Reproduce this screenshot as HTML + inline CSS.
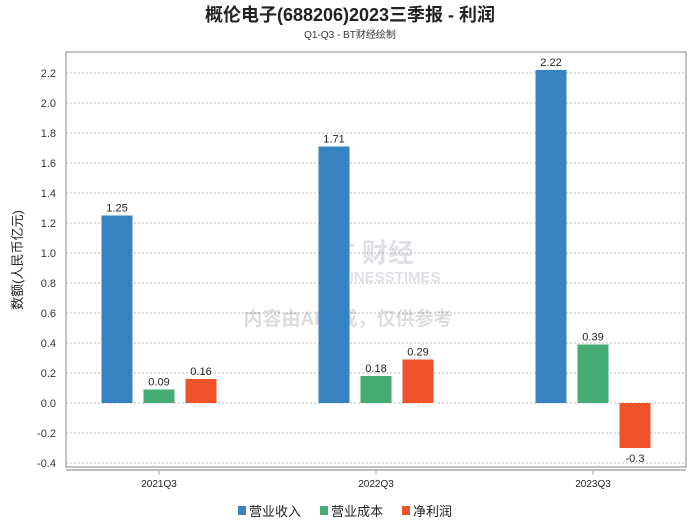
<!DOCTYPE html>
<html><head><meta charset="utf-8"><style>
body{margin:0;background:#fff;font-family:"Liberation Sans","Noto Sans CJK SC",sans-serif;}
svg text{font-family:"Liberation Sans","Noto Sans CJK SC",sans-serif;}
</style></head><body>
<svg id="chart" width="700" height="524" xmlns="http://www.w3.org/2000/svg">
<text x="350" y="21" text-anchor="middle" font-size="18" font-weight="bold" fill="#222">概伦电子(688206)2023三季报 - 利润</text>
<text x="350" y="38" text-anchor="middle" font-size="10" fill="#333">Q1-Q3 - BT财经绘制</text>
<rect x="66" y="52" width="620" height="415" fill="none" stroke="#888"/>
<line x1="66" y1="470" x2="686" y2="470" stroke="#aaa" stroke-width="1.5"/>
<g id="grid"></g>
<g opacity="0.18">
<text x="320" y="262" font-size="26" font-weight="bold" fill="#557" font-family="Liberation Serif">BT 财经</text>
<text x="318" y="282" font-size="15" font-weight="bold" fill="#557" font-family="Liberation Serif">BUSINESSTIMES</text>
<text x="348" y="325" text-anchor="middle" font-size="19" font-weight="bold" fill="#444">内容由AI生成，仅供参考</text>
</g>
<g id="bars"></g>
<text transform="translate(22,260) rotate(-90)" text-anchor="middle" font-size="13" fill="#222">数额(人民币亿元)</text>
<g>
<rect x="238" y="506" width="8" height="9" fill="#3783c1"/>
<text x="249" y="516" font-size="13" fill="#222">营业收入</text>
<rect x="320" y="506" width="8" height="9" fill="#47ab74"/>
<text x="331" y="516" font-size="13" fill="#222">营业成本</text>
<rect x="402" y="506" width="8" height="9" fill="#ef5228"/>
<text x="413" y="516" font-size="13" fill="#222">净利润</text>
</g>
</svg>
<script>
const categories=["2021Q3","2022Q3","2023Q3"];
const revenue=[1.25,1.71,2.22];
const cost=[0.09,0.18,0.39];
const profit=[0.16,0.29,-0.3];
const yTicks=[-0.4,-0.2,0.0,0.2,0.4,0.6,0.8,1.0,1.2,1.4,1.6,1.8,2.0,2.2];
const NS="http://www.w3.org/2000/svg";
function y(v){return 403-v*150;}
function xc(i){return 159+i*217;}
function mk(t,a,p){const e=document.createElementNS(NS,t);for(const k in a)e.setAttribute(k,a[k]);p.appendChild(e);return e;}
const grid=document.getElementById('grid'),bars=document.getElementById('bars');
yTicks.forEach(v=>{
 const l=mk('line',{x1:66,x2:686,y1:y(v),y2:y(v),stroke:'#bbb','stroke-dasharray':'2,2'},grid);
 
 
 const t=mk('text',{x:56,y:y(v)+4,'text-anchor':'end','font-size':11,fill:'#333'},grid);
 t.textContent=v.toFixed(1);
 
 
});
const series=[[revenue,'#3783c1',-42,'revenue'],[cost,'#47ab74',0,'cost'],[profit,'#ef5228',42,'profit']];
categories.forEach((c,i)=>{
 const tk=mk('line',{x1:xc(i),x2:xc(i),y1:470,y2:475,stroke:'#aaa'},grid);
 
 
 const t=mk('text',{x:xc(i),y:487,'text-anchor':'middle','font-size':10,fill:'#222'},grid);
 t.textContent=c;
 
 
 series.forEach(([arr,col,off,nm])=>{
  const v=arr[i],cx=xc(i)+off,top=Math.min(y(v),y(0)),h=Math.abs(y(v)-y(0));
  const r=mk('rect',{x:cx-15.5,y:top,width:31,height:h,fill:col},bars);
  
  
  const lt=mk('text',{x:cx,y:v>=0?y(v)-4:y(v)+14,'text-anchor':'middle','font-size':11,fill:'#222'},bars);
  lt.textContent=String(v);
  
  
 });
});
</script>
</body></html>
